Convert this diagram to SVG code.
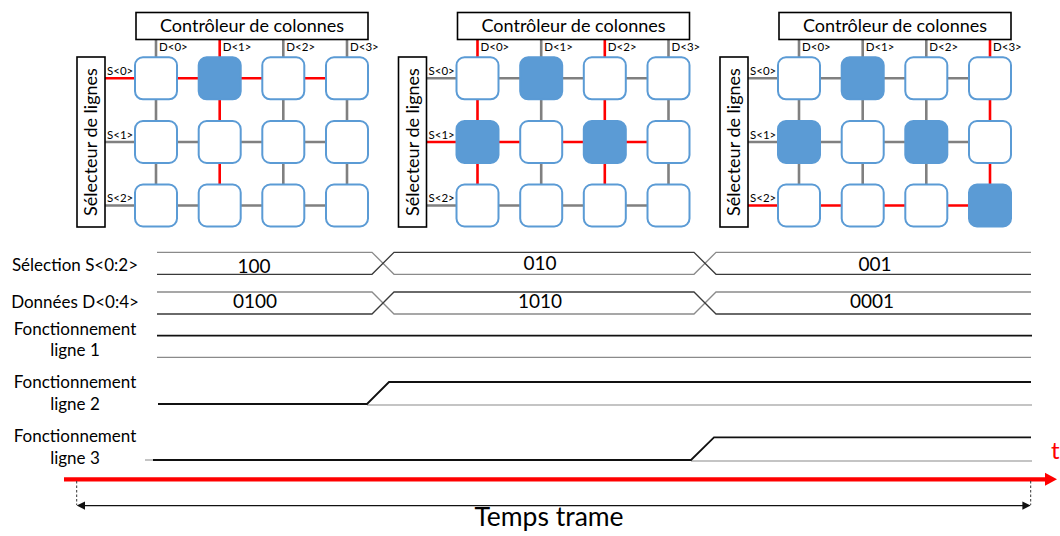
<svg xmlns="http://www.w3.org/2000/svg" width="1060" height="536" viewBox="0 0 1060 536">
<defs>
<style>
text{font-family:Lato,"Open Sans","Liberation Sans",sans-serif;fill:#000}
.box{fill:#fff;stroke:#000;stroke-width:1.6}
.cell{fill:#fff;stroke:#5B9BD5;stroke-width:2}
.on{fill:#5B9BD5;stroke:#5B9BD5;stroke-width:2}
.g{stroke:#808080;stroke-width:2.6;fill:none}
.r{stroke:#FF0000;stroke-width:2.6;fill:none}
.lbl{font-size:11.5px}
.title{font-size:18px}
.sig{font-size:17px}
.val{font-size:19px}
.busT{stroke:#8a8a8a;stroke-width:1.3;fill:none}
.busB{stroke:#3a3a3a;stroke-width:1.3;fill:none}
.hi{stroke:#111;stroke-width:1.8;fill:none}
.lo{stroke:#8a8a8a;stroke-width:1.2;fill:none}
</style>
</defs>
<rect width="1060" height="536" fill="#fff"/>

<!-- Panel 1 -->
<g id="panel1">
<g id="p1-connectors">
<path class="g" d="M105,142H347M105,205.5H347M156,40V205.5M283.3,40V205.5M347,40V205.5"/>
<path class="r" d="M105,78.3H347M219.7,40V205.5"/>
</g>
<g id="p1-controleur"><rect class="box" x="136" y="12.5" width="232" height="27"/><text class="title" x="252" y="32" text-anchor="middle">Contrôleur de colonnes</text></g>
<g id="p1-selecteur"><rect class="box" x="77" y="57" width="28" height="170"/><text class="title" transform="translate(97,142) rotate(-90)" text-anchor="middle">Sélecteur de lignes</text></g>
<g id="p1-labels"><text class="lbl" x="159" y="51">D&lt;0&gt;</text><text class="lbl" x="222.7" y="51">D&lt;1&gt;</text><text class="lbl" x="286.3" y="51">D&lt;2&gt;</text><text class="lbl" x="350" y="51">D&lt;3&gt;</text><text class="lbl" x="107" y="75">S&lt;0&gt;</text><text class="lbl" x="107" y="138.5">S&lt;1&gt;</text><text class="lbl" x="107" y="202">S&lt;2&gt;</text></g>
<g id="p1-c00"><rect class="cell" x="135" y="57.3" width="42" height="42" rx="8"/></g>
<g id="p1-c01"><rect class="on" x="198.7" y="57.3" width="42" height="42" rx="8"/></g>
<g id="p1-c02"><rect class="cell" x="262.3" y="57.3" width="42" height="42" rx="8"/></g>
<g id="p1-c03"><rect class="cell" x="326" y="57.3" width="42" height="42" rx="8"/></g>
<g id="p1-c10"><rect class="cell" x="135" y="121" width="42" height="42" rx="8"/></g>
<g id="p1-c11"><rect class="cell" x="198.7" y="121" width="42" height="42" rx="8"/></g>
<g id="p1-c12"><rect class="cell" x="262.3" y="121" width="42" height="42" rx="8"/></g>
<g id="p1-c13"><rect class="cell" x="326" y="121" width="42" height="42" rx="8"/></g>
<g id="p1-c20"><rect class="cell" x="135" y="184.5" width="42" height="42" rx="8"/></g>
<g id="p1-c21"><rect class="cell" x="198.7" y="184.5" width="42" height="42" rx="8"/></g>
<g id="p1-c22"><rect class="cell" x="262.3" y="184.5" width="42" height="42" rx="8"/></g>
<g id="p1-c23"><rect class="cell" x="326" y="184.5" width="42" height="42" rx="8"/></g>
</g>

<!-- Panel 2 -->
<g id="panel2" transform="translate(321.5,0)">
<g id="p2-connectors">
<path class="g" d="M105,78.3H347M105,205.5H347M219.7,40V205.5M347,40V205.5"/>
<path class="r" d="M105,142H347M156,40V205.5M283.3,40V205.5"/>
</g>
<g id="p2-controleur"><rect class="box" x="136" y="12.5" width="232" height="27"/><text class="title" x="252" y="32" text-anchor="middle">Contrôleur de colonnes</text></g>
<g id="p2-selecteur"><rect class="box" x="77" y="57" width="28" height="170"/><text class="title" transform="translate(97,142) rotate(-90)" text-anchor="middle">Sélecteur de lignes</text></g>
<g id="p2-labels"><text class="lbl" x="159" y="51">D&lt;0&gt;</text><text class="lbl" x="222.7" y="51">D&lt;1&gt;</text><text class="lbl" x="286.3" y="51">D&lt;2&gt;</text><text class="lbl" x="350" y="51">D&lt;3&gt;</text><text class="lbl" x="107" y="75">S&lt;0&gt;</text><text class="lbl" x="107" y="138.5">S&lt;1&gt;</text><text class="lbl" x="107" y="202">S&lt;2&gt;</text></g>
<g id="p2-c00"><rect class="cell" x="135" y="57.3" width="42" height="42" rx="8"/></g>
<g id="p2-c01"><rect class="on" x="198.7" y="57.3" width="42" height="42" rx="8"/></g>
<g id="p2-c02"><rect class="cell" x="262.3" y="57.3" width="42" height="42" rx="8"/></g>
<g id="p2-c03"><rect class="cell" x="326" y="57.3" width="42" height="42" rx="8"/></g>
<g id="p2-c10"><rect class="on" x="135" y="121" width="42" height="42" rx="8"/></g>
<g id="p2-c11"><rect class="cell" x="198.7" y="121" width="42" height="42" rx="8"/></g>
<g id="p2-c12"><rect class="on" x="262.3" y="121" width="42" height="42" rx="8"/></g>
<g id="p2-c13"><rect class="cell" x="326" y="121" width="42" height="42" rx="8"/></g>
<g id="p2-c20"><rect class="cell" x="135" y="184.5" width="42" height="42" rx="8"/></g>
<g id="p2-c21"><rect class="cell" x="198.7" y="184.5" width="42" height="42" rx="8"/></g>
<g id="p2-c22"><rect class="cell" x="262.3" y="184.5" width="42" height="42" rx="8"/></g>
<g id="p2-c23"><rect class="cell" x="326" y="184.5" width="42" height="42" rx="8"/></g>
</g>

<!-- Panel 3 -->
<g id="panel3" transform="translate(643,0)">
<g id="p3-connectors">
<path class="g" d="M105,78.3H347M105,142H347M156,40V205.5M219.7,40V205.5M283.3,40V205.5"/>
<path class="r" d="M105,205.5H347M347,40V205.5"/>
</g>
<g id="p3-controleur"><rect class="box" x="136" y="12.5" width="232" height="27"/><text class="title" x="252" y="32" text-anchor="middle">Contrôleur de colonnes</text></g>
<g id="p3-selecteur"><rect class="box" x="77" y="57" width="28" height="170"/><text class="title" transform="translate(97,142) rotate(-90)" text-anchor="middle">Sélecteur de lignes</text></g>
<g id="p3-labels"><text class="lbl" x="159" y="51">D&lt;0&gt;</text><text class="lbl" x="222.7" y="51">D&lt;1&gt;</text><text class="lbl" x="286.3" y="51">D&lt;2&gt;</text><text class="lbl" x="350" y="51">D&lt;3&gt;</text><text class="lbl" x="107" y="75">S&lt;0&gt;</text><text class="lbl" x="107" y="138.5">S&lt;1&gt;</text><text class="lbl" x="107" y="202">S&lt;2&gt;</text></g>
<g id="p3-c00"><rect class="cell" x="135" y="57.3" width="42" height="42" rx="8"/></g>
<g id="p3-c01"><rect class="on" x="198.7" y="57.3" width="42" height="42" rx="8"/></g>
<g id="p3-c02"><rect class="cell" x="262.3" y="57.3" width="42" height="42" rx="8"/></g>
<g id="p3-c03"><rect class="cell" x="326" y="57.3" width="42" height="42" rx="8"/></g>
<g id="p3-c10"><rect class="on" x="135" y="121" width="42" height="42" rx="8"/></g>
<g id="p3-c11"><rect class="cell" x="198.7" y="121" width="42" height="42" rx="8"/></g>
<g id="p3-c12"><rect class="on" x="262.3" y="121" width="42" height="42" rx="8"/></g>
<g id="p3-c13"><rect class="cell" x="326" y="121" width="42" height="42" rx="8"/></g>
<g id="p3-c20"><rect class="cell" x="135" y="184.5" width="42" height="42" rx="8"/></g>
<g id="p3-c21"><rect class="cell" x="198.7" y="184.5" width="42" height="42" rx="8"/></g>
<g id="p3-c22"><rect class="cell" x="262.3" y="184.5" width="42" height="42" rx="8"/></g>
<g id="p3-c23"><rect class="on" x="326" y="184.5" width="42" height="42" rx="8"/></g>
</g>

<!-- Timing diagram -->
<g id="timing-labels">
<text class="sig" x="75" y="271" text-anchor="middle">Sélection S&lt;0:2&gt;</text>
<text class="sig" x="75" y="308" text-anchor="middle">Données D&lt;0:4&gt;</text>
<text class="sig" x="75" y="335" text-anchor="middle">Fonctionnement</text>
<text class="sig" x="75" y="356" text-anchor="middle">ligne 1</text>
<text class="sig" x="75" y="388" text-anchor="middle">Fonctionnement</text>
<text class="sig" x="75" y="410" text-anchor="middle">ligne 2</text>
<text class="sig" x="75" y="442" text-anchor="middle">Fonctionnement</text>
<text class="sig" x="75" y="464" text-anchor="middle">ligne 3</text>
</g>
<g id="bus-selection">
<path class="busT" d="M157,252.3H372L394,274.3H694L716,252.3H1031"/>
<path class="busB" d="M157,274.3H372L394,252.3H694L716,274.3H1031"/>
<text class="val" x="254" y="272.5" text-anchor="middle">100</text>
<text class="val" x="540" y="270" text-anchor="middle">010</text>
<text class="val" x="875" y="271" text-anchor="middle">001</text>
</g>
<g id="bus-donnees">
<path class="busT" d="M157,292H372L394,314H694L716,292H1031"/>
<path class="busB" d="M157,314H372L394,292H694L716,314H1031"/>
<text class="val" x="255" y="307.5" text-anchor="middle">0100</text>
<text class="val" x="540" y="307.5" text-anchor="middle">1010</text>
<text class="val" x="872" y="307.5" text-anchor="middle">0001</text>
</g>
<g id="signal-ligne1">
<path class="lo" d="M157,357.3H1031"/>
<path class="hi" d="M157,335.7H1032"/>
</g>
<g id="signal-ligne2">
<path class="lo" d="M367,405H1032"/>
<path class="hi" d="M158,404H367L389,382H1031"/>
</g>
<g id="signal-ligne3">
<path class="lo" d="M145,460H153M691,461H1032"/>
<path class="hi" d="M153,460H691L714,437.3H1031"/>
</g>

<!-- Time axis -->
<g id="time-axis">
<path d="M64,479.3H1047" stroke="#FF0000" stroke-width="4.2" fill="none"/>
<polygon points="1045,472.8 1057,479.3 1045,485.8" fill="#FF0000"/>
<text x="1051" y="459" font-size="24" style="fill:#FF0000">t</text>
</g>
<g id="temps-trame">
<path d="M76.7,481V505M1030.7,481V505" stroke="#333" stroke-width="1" stroke-dasharray="2.5,2" fill="none"/>
<path d="M84,505.6H1023" stroke="#111" stroke-width="1.2" fill="none"/>
<polygon points="76.7,505.6 85,501.4 85,509.8" fill="#111"/>
<polygon points="1030.7,505.6 1022.4,501.4 1022.4,509.8" fill="#111"/>
<text x="549" y="526" font-size="26.5" text-anchor="middle">Temps trame</text>
</g>
</svg>
